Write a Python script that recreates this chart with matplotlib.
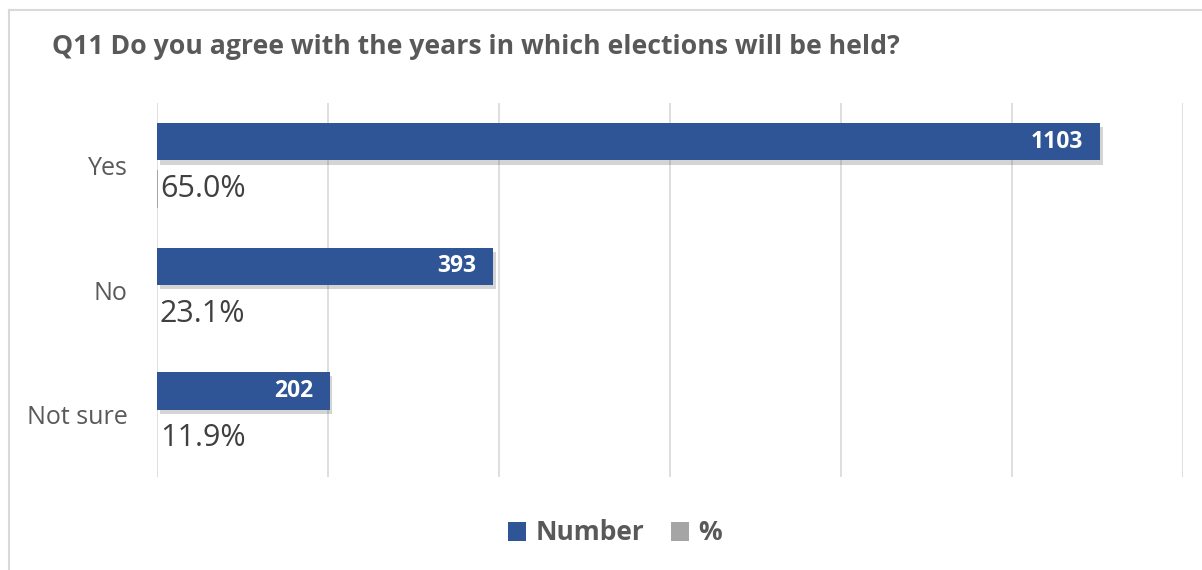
import matplotlib.pyplot as plt
import matplotlib.patheffects as pe
from matplotlib.patches import Patch
from matplotlib.lines import Line2D

plt.rcParams['font.family'] = ['Open Sans', 'DejaVu Sans']

categorias = ['Yes', 'No', 'Not sure']
numeros = [1103, 393, 202]
porcentajes = [0.650, 0.231, 0.119]
ticks_x = [0, 200, 400, 600, 800, 1000, 1200]

azul = '#2F5597'
gris = '#A5A5A5'
texto = '#595959'

W, H = 1202, 570
fig = plt.figure(figsize=(W / 100, H / 100), dpi=100)
ax = fig.add_axes([157 / W, 1 - 477 / H, (1183 - 157) / W, (477 - 103) / H])

pos = list(range(len(categorias)))
alto = 0.30
desp = 0.19

sombra = [pe.SimplePatchShadow(offset=(2, -3), alpha=0.25, shadow_rgbFace='#555555'), pe.Normal()]
barras = ax.barh([p - desp for p in pos], numeros, height=alto, color=azul, zorder=3)
for b in barras:
    b.set_path_effects(sombra)
ax.barh([p + desp for p in pos], porcentajes, height=alto, color=gris, zorder=3)

# etiquetas de valor
for p, n in zip(pos, numeros):
    ax.annotate(str(n), xy=(n, p - desp), xytext=(-12, 0), textcoords='offset points',
                ha='right', va='center', color='white', fontsize=16.5, fontweight='bold', zorder=4)
for p, v in zip(pos, porcentajes):
    ax.annotate(f'{v * 100:.1f}%', xy=(v, p + desp), xytext=(2, 0), textcoords='offset points',
                ha='left', va='center', color='#404040', fontsize=22, zorder=4)

ax.set_xlim(0, 1200)
ax.set_ylim(2.5, -0.5)
ax.set_xticks(ticks_x)
ax.set_xticklabels([])
ax.set_yticks(pos)
ax.set_yticklabels(categorias, fontsize=18, color=texto)
ax.tick_params(axis='both', length=0)
ax.tick_params(axis='y', pad=21)
ax.grid(axis='x', color='#D9D9D9', linewidth=1.2, zorder=0)
for s in ax.spines.values():
    s.set_visible(False)

fig.text(52 / W, 1 - 47 / H, 'Q11 Do you agree with the years in which elections will be held?',
         fontsize=19.2, fontweight='bold', color=texto, ha='left', va='center')

# leyenda
manejadores = [Patch(facecolor=azul), Patch(facecolor=gris)]
fig.legend(manejadores, ['Number', '%'], loc='center', bbox_to_anchor=(615 / W, 1 - 533 / H),
           ncol=2, frameon=False, prop={'size': 19, 'weight': 'bold'}, labelcolor=texto,
           handlelength=0.7, handleheight=0.7, handletextpad=0.35, columnspacing=1.0)

# marco del gráfico (izquierda y arriba)
fig.add_artist(Line2D([9 / W, 9 / W], [0, 1 - 10 / H], color='#D9D9D9', linewidth=1.5))
fig.add_artist(Line2D([9 / W, 1], [1 - 10 / H, 1 - 10 / H], color='#D9D9D9', linewidth=1.5))

plt.savefig('out.png', dpi=100)
